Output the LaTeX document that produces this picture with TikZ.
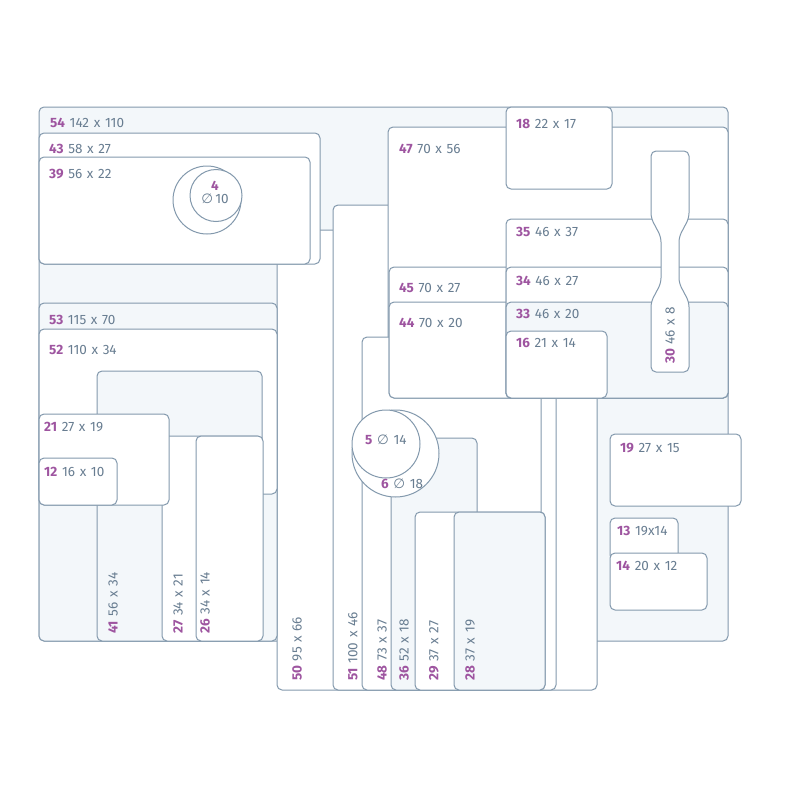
\documentclass[tikz,border=0pt]{standalone}
\usepackage{fontspec}
\setmainfont{Fira Sans}[WordSpace={1.3,0.2,0.2}]
\newfontfamily\symfont{DejaVu Sans}
\definecolor{edge}{HTML}{8399AD}
\definecolor{shade}{HTML}{F3F7FA}
\definecolor{dimtext}{HTML}{687D91}
\definecolor{partno}{HTML}{9E55A0}
\newcommand{\partlabel}[2]{{\bfseries\color{partno}#1} #2}
\newcommand{\dia}{{\symfont\char"2205}}
\begin{document}
\begin{tikzpicture}[x=1pt, y=-1pt,
    tray/.style={draw=edge, fill=white, line width=1pt, rounded corners=5pt},
    lighttray/.style={tray, fill=shade},
    lbl/.style={anchor=west, inner sep=0pt, text=dimtext, font=\fontsize{13.5}{15}\selectfont},
    vlbl/.style={lbl, rotate=90}]
    % Page frame
    \fill[white] (0,0) rectangle (800,800);
    \useasboundingbox (0,0) rectangle (800,800);

    % Outer tray
    \draw[lighttray] (39,107) rectangle (728,641);

    % Long trays in the middle
    \draw[tray] (277,230) rectangle (597,690); % 50
    \draw[tray] (333,205) rectangle (556,690); % 51

    % Right block
    \draw[tray] (388,127) rectangle (728,398); % 47
    \draw[tray] (506,107) rectangle (612,189); % 18
    \draw[tray] (362,337) rectangle (541,690); % 48
    \draw[tray] (389,267) rectangle (520,398); % 45
    \draw[tray] (389,302) rectangle (520,398); % 44
    \draw[tray] (506,219) rectangle (728,398); % 35
    \draw[tray] (506,267) rectangle (728,398); % 34
    \draw[lighttray] (506,302) rectangle (728,398); % 33
    \draw[tray] (506,331) rectangle (607,398); % 16

    % Bottle shape 30
    \draw[tray] (670,151) -- (689,151) -- (689,218) -- (679,237) -- (679,283)
        -- (689,302) -- (689,372) -- (651,372) -- (651,302) -- (661,283)
        -- (661,237) -- (651,218) -- (651,151) -- cycle;

    % Trays in front of 48
    \draw[lighttray] (391,438) rectangle (477,690); % 36
    \draw[tray] (415,512) rectangle (545,690); % 29
    \draw[lighttray] (454,512) rectangle (545,690); % 28

    % Round ones 6 and 5
    \coordinate (c6) at (395.5,453.5);
    \coordinate (c5) at (386,444);
    \draw[tray] (c6) circle (43.5);
    \draw[tray] (c5) circle (34);

    % Top left
    \draw[tray] (39,133) rectangle (320,264); % 43
    \draw[tray] (39,157) rectangle (310,264); % 39
    \coordinate (c4a) at (207,200);
    \coordinate (c4) at (216,195.5);
    \draw[tray] (c4a) circle (34);
    \draw[tray] (c4) circle (26);

    % Bottom left
    \draw[lighttray] (39,303) rectangle (277,641); % 53
    \draw[tray] (39,329) rectangle (277,494); % 52
    \draw[lighttray] (97,371) rectangle (262,641); % 41
    \draw[tray] (162,436) rectangle (262,641); % 27
    \draw[tray] (196,436) rectangle (263,641); % 26
    \draw[tray] (39,414) rectangle (169,505); % 21
    \draw[tray] (39,458) rectangle (117,505); % 12

    % Bottom right
    \draw[tray] (610,434) rectangle (741,506); % 19
    \draw[tray] (610,518) rectangle (678,560); % 13
    \draw[tray] (610,553) rectangle (707,610); % 14

    % Labels
    \node[lbl] (l54) at (50,123) {\partlabel{54}{142 x 110}};
    \node[lbl] (l43) at (49,149) {\partlabel{43}{58 x 27}};
    \node[lbl] (l39) at (49,174) {\partlabel{39}{56 x 22}};
    \node[lbl, anchor=center, text=partno, font=\fontsize{13.5}{15}\selectfont\bfseries] (l4) at (215,186) {4};
    \node[lbl, anchor=center] (l4d) at (215,199) {\dia\,10};
    \node[lbl] (l47) at (399,149) {\partlabel{47}{70 x 56}};
    \node[lbl] (l18) at (516,124) {\partlabel{18}{22 x 17}};
    \node[lbl] (l35) at (516,232) {\partlabel{35}{46 x 37}};
    \node[lbl] (l34) at (516,281) {\partlabel{34}{46 x 27}};
    \node[lbl] (l45) at (399,288) {\partlabel{45}{70 x 27}};
    \node[lbl] (l33) at (516,314) {\partlabel{33}{46 x 20}};
    \node[lbl] (l44) at (399,323) {\partlabel{44}{70 x 20}};
    \node[lbl] (l16) at (516,343) {\partlabel{16}{21 x 14}};
    \node[lbl] (l53) at (49,320) {\partlabel{53}{115 x 70}};
    \node[lbl] (l52) at (49,350) {\partlabel{52}{110 x 34}};
    \node[lbl] (l21) at (44,427) {\partlabel{21}{27 x 19}};
    \node[lbl] (l12) at (44,472) {\partlabel{12}{16 x 10}};
    \node[lbl] (l19) at (620,448) {\partlabel{19}{27 x 15}};
    \node[lbl] (l13) at (617,531) {\partlabel{13}{19x14}};
    \node[lbl] (l14) at (616,566) {\partlabel{14}{20 x 12}};
    \node[lbl] (l5) at (365,440) {\partlabel{5}{\dia\ 14}};
    \node[lbl] (l6) at (381,484) {\partlabel{6}{\dia\ 18}};

    % Upright labels
    \node[vlbl] (l41) at (113,634) {\partlabel{41}{56 x 34}};
    \node[vlbl] (l27) at (178,634) {\partlabel{27}{34 x 21}};
    \node[vlbl] (l26) at (205,634) {\partlabel{26}{34 x 14}};
    \node[vlbl] (l50) at (297,681) {\partlabel{50}{95 x 66}};
    \node[vlbl] (l51) at (353,681) {\partlabel{51}{100 x 46}};
    \node[vlbl] (l48) at (382,681) {\partlabel{48}{73 x 37}};
    \node[vlbl] (l36) at (404,681) {\partlabel{36}{52 x 18}};
    \node[vlbl] (l29) at (434,681) {\partlabel{29}{37 x 27}};
    \node[vlbl] (l28) at (470,681) {\partlabel{28}{37 x 19}};
    \node[vlbl] (l30) at (670,364) {\partlabel{30}{46 x 8}};
\end{tikzpicture}
\end{document}
